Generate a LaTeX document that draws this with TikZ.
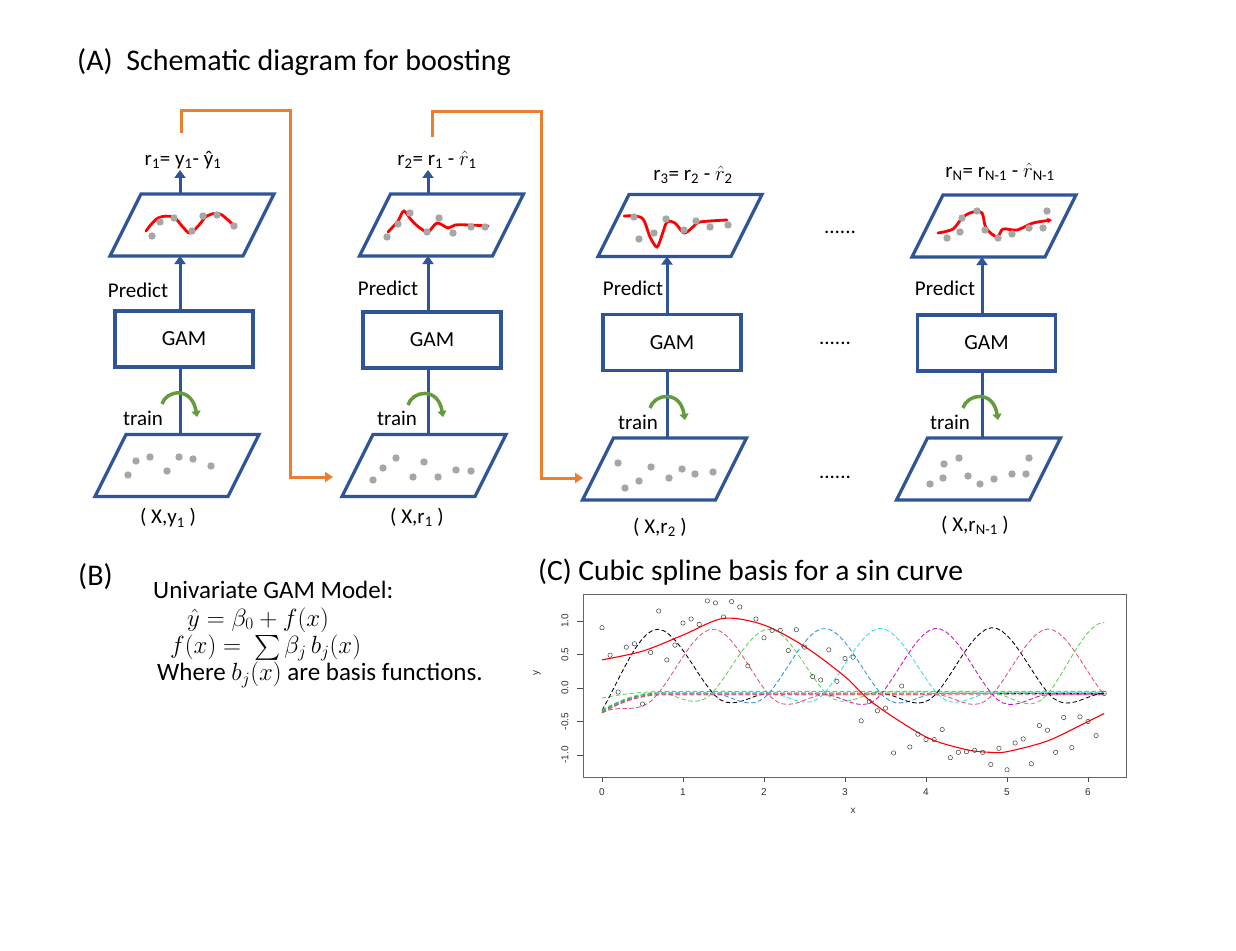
\documentclass[tikz,border=0pt]{standalone}
\usepackage{fontspec}
\usepackage{exscale}
\setmainfont{Carlito}
\newfontfamily\plotfont{Liberation Sans}
\usetikzlibrary{arrows.meta}
\definecolor{blu}{RGB}{47,85,151}
\definecolor{org}{RGB}{237,125,49}
\definecolor{grn}{RGB}{100,155,60}
\definecolor{dotg}{RGB}{166,166,166}
\definecolor{rpink}{HTML}{DF536B}
\definecolor{rgreen}{HTML}{61D04F}
\definecolor{rblue}{HTML}{2297E6}
\definecolor{rcyan}{HTML}{28E2E5}
\definecolor{rmag}{HTML}{CD0BBC}
\begin{document}
\begin{tikzpicture}[x=1pt,y=-1pt,
  declare function={kb(\a)=\a<1 ? (\a*\a*\a-2*\a*\a+1) : (\a<2 ? (-\a*\a*\a+5*\a*\a-8*\a+4) : 0);
                     kk(\t)=kb(abs(\t));
                     ee(\x)=-0.27*(max(0,1-\x/0.75))^2;},
  txt/.style={font=\fontsize{21}{25}\selectfont, inner sep=1pt},
  big/.style={font=\fontsize{30}{36}\selectfont, inner sep=0pt, anchor=west},
  mid/.style={font=\fontsize{25}{30}\selectfont, inner sep=0pt, anchor=west},
  mth/.style={font=\fontsize{26.5}{30}\selectfont, inner sep=0pt, anchor=west},
  parabox/.style={minimum width=164pt, minimum height=62pt, inner sep=0pt, outer sep=0pt},
  paraline/.style={draw=blu, line width=3.2pt, line join=miter},
  gam/.style={draw=blu, line width=3.2pt, minimum width=138pt, minimum height=56pt,
    font=\fontsize{21.5}{25}\selectfont},
  barr/.style={draw=blu, line width=3pt, -{Triangle[width=11pt,length=8pt]}},
  bline/.style={draw=blu, line width=3pt},
  oarr/.style={draw=org, line width=3pt, -{Triangle[width=10pt,length=8pt]}},
  garr/.style={draw=grn, line width=3.5pt, -{Triangle[width=9pt,length=6pt]}},
  redc/.style={draw=red, line width=2.8pt, line cap=round},
  dot/.style={fill=dotg},
  bdash/.style={line width=0.85pt, dash pattern=on 4.5pt off 2.5pt},
  circ/.style={draw=black!75, line width=0.5pt},
  tick/.style={font=\plotfont\fontsize{10}{12}\selectfont, text=black!80, inner sep=0pt}
]
\useasboundingbox[fill=white] (0,0) rectangle (1236,950);

% ---------- titles ----------
\node[big] (titA) at (77,62) {(A)\ \ Schematic diagram for boosting};
\node[big] (titB) at (78,577) {(B)};
\node[big, font=\fontsize{29.5}{35}\selectfont] (titC) at (538,572) {(C) Cubic spline basis for a sin curve};

% ---------- column axes ----------
\coordinate (ax1) at (180,0);
\coordinate (ax2) at (428,0);
\coordinate (ax3) at (667,0);
\coordinate (ax4) at (982,0);

% ---------- shapes ----------
\node[parabox] (t1) at (192,225) {};
\node[parabox] (b1) at (177,465.5) {};
\node[gam] (g1) at (184,339) {GAM};
\node[parabox] (t2) at (441.5,225) {};
\node[parabox] (b2) at (424,465.5) {};
\node[gam] (g2) at (432,340) {GAM};
\node[parabox] (t3) at (680,225.5) {};
\node[parabox] (b3) at (664.5,469) {};
\node[gam] (g3) at (672,342.5) {GAM};
\node[parabox] (t4) at (994,226) {};
\node[parabox] (b4) at (978.5,469) {};
\node[gam] (g4) at (986.5,343) {GAM};
\foreach \n in {t1,b1,t2,b2,t3,b3,t4,b4}
  \draw[paraline] (\n.south west) -- ([xshift=-31pt]\n.south east) -- (\n.north east)
    -- ([xshift=31pt]\n.north west) -- cycle;

% ---------- labels ----------
\node[txt] (l1) at (183,160) {r\textsubscript{1}= y\textsubscript{1}- ŷ\textsubscript{1}};
\node[txt] (l2) at (437,160) {r\textsubscript{2}= r\textsubscript{1} - $\hat{r}$\textsubscript{1}};
\node[txt] (l3) at (693,175) {r\textsubscript{3}= r\textsubscript{2} - $\hat{r}$\textsubscript{2}};
\node[txt] (l4) at (1000,172) {r\textsubscript{N}= r\textsubscript{N-1} - $\hat{r}$\textsubscript{N-1}};

\node[txt] (p1) at (138,290) {Predict};
\node[txt] (p2) at (388,288) {Predict};
\node[txt] (p3) at (633,288) {Predict};
\node[txt] (p4) at (945,288) {Predict};

\node[txt] (tr1) at (143,418) {train};
\node[txt] (tr2) at (397,418) {train};
\node[txt] (tr3) at (638,422) {train};
\node[txt] (tr4) at (950,422) {train};

\node[txt] (x1) at (168,518) {( X,y\textsubscript{1} )};
\node[txt] (x2) at (417,517) {( X,r\textsubscript{1} )};
\node[txt] (x3) at (660,527) {( X,r\textsubscript{2} )};
\node[txt] (x4) at (975,525) {( X,r\textsubscript{N-1} )};

\node[txt] (d1) at (840,232) {......};
\node[txt] (d2) at (835,343) {......};
\node[txt] (d3) at (835,477) {......};

% ---------- blue connectors ----------
\draw[barr] (t1.north -| ax1) -- (l1.south -| ax1);
\draw[barr] (t2.north -| ax2) -- (l2.south -| ax2);
\foreach \i in {1,2,3,4}{
  \draw[barr] (g\i.north -| ax\i) -- (t\i.south -| ax\i);
  \draw[bline] (b\i.north -| ax\i) -- (g\i.south -| ax\i);
}

% ---------- orange feedback ----------
\coordinate (o1s) at (181,133); \coordinate (o1m) at (290,110); \coordinate (o1e) at (333,477);
\coordinate (o2s) at (432,137); \coordinate (o2m) at (541,111); \coordinate (o2e) at (583,478);
\draw[oarr] (o1s) |- (o1m) |- (o1e);
\draw[oarr] (o2s) |- (o2m) |- (o2e);

% ---------- green train arcs ----------
\draw[garr] (162,404) .. controls (166,390) and (192,386) .. (197,417);
\draw[garr] (408,405) .. controls (412,391) and (438,386) .. (443,417);
\draw[garr] (650,408) .. controls (654,394) and (680,389) .. (685,420);
\draw[garr] (963,408) .. controls (967,394) and (993,389) .. (998,420);

% ---------- data dots and fits ----------
\draw[redc] plot[smooth,tension=0.6] coordinates {(146,231) (158,218) (173,217) (182,226) (190,233) (199,225) (207,216) (220,214) (234,226)};
\draw[redc] plot[smooth,tension=0.5] coordinates {(388,232) (398,221) (404,211) (413,222) (427,232) (437,223) (448,228) (455,225) (470,225) (488,226)};
\draw[redc] plot[smooth,tension=0.5] coordinates {(624,216) (642,218) (650,237) (657,247) (662,235) (667,222) (675,223) (684,233) (693,227) (700,222) (727,220)};
\draw[redc, -{Stealth[length=5pt,width=6pt]}] plot[smooth,tension=0.5] coordinates {(938,233) (953,229) (963,217) (973,212) (982,213) (986,228) (997,237) (1003,229) (1017,230) (1033,223) (1052,220)};

\foreach \p in {(128,475),(136,461),(150,457),(167,471),(179,457),(193,459),(211,466),
  (373,480),(383,468),(396,458),(413,477),(424,462),(438,477),(456,470),(471,471),
  (618,463),(625,488),(639,481),(651,467),(669,478),(682,469),(695,474),(713,472),
  (930,484),(943,478),(944,464),(959,458),(968,476),(980,484),(994,479),(1012,474),(1026,474),(1029,458),
  (152,236),(160,222),(174,218),(192,231),(203,216),(217,215),(234,226),
  (387,237),(398,224),(410,213),(427,232),(439,218),(453,233),(471,227),(485,227),
  (634,217),(639,239),(654,233),(666,219),(684,230),(696,221),(710,227),(728,225),
  (947,238),(960,232),(962,218),(977,211),(985,230),(998,238),(1012,234),(1029,228),(1043,228),(1047,211)}
  \fill[dot] \p circle[radius=3.7];

% ---------- (B) text ----------
\node[mid] (bt1) at (153,590) {Univariate GAM Model:};
\node[mth] (bt2) at (187,620) {$\hat{y} = \beta_0 + f(x)$};
\node[mth] (bt3) at (170,648) {$f(x) =\ \textstyle\sum \beta_j\, b_j(x)$};
\node[mid] (bt4) at (157,675) {Where $b_j(x)$ are basis functions.};

% ---------- (C) plot ----------
\draw[black!60, line width=0.8pt] (583,594) rectangle (1126,777);
\foreach \i in {0,...,6}{
  \draw[black!70, line width=0.6pt] ({602+81*\i},777) -- ({602+81*\i},782);
  \node[tick] (xt\i) at ({602+81*\i},792) {\i};
}
\foreach \v/\yy in {1.0/621,0.5/654.5,0.0/688,-0.5/721.5,-1.0/755}{
  \draw[black!70, line width=0.6pt] (583,\yy) -- (577,\yy);
  \node[tick, rotate=90] (yt\yy) at (565,\yy) {\v};
}
\node[tick] (xlab) at (853,811) {x};
\node[tick, rotate=90] (ylab) at (537,673) {y};

\begin{scope}[shift={(602,688)}, x=81pt, y=67pt]
  \draw[bdash, rgreen] plot[domain=0:6.2, samples=40, variable=\x] (\x, {-0.05-0.1*(max(0,1-\x/0.8))^2});
  \foreach \c/\col/\base/\amp in {0.68/black/-0.08/0.96, 1.37/rpink/-0.1/0.98, 2.06/rgreen/-0.06/0.94,
      2.75/rblue/-0.08/0.97, 3.44/rcyan/-0.07/0.96, 4.13/rmag/-0.1/0.99, 4.82/black/-0.08/0.98,
      5.51/rpink/-0.1/0.98, 6.2/rgreen/-0.08/1.06}{
    \draw[bdash, \col] plot[domain=0:6.2, samples=90, variable=\x]
      (\x, {\base + \amp*kk((\x-\c)/0.69) + ee(\x)});
  }
  \draw[red, line width=1.1pt] plot[smooth] coordinates {(0,0.42) (0.5,0.55) (1,0.79) (1.5,1.04) (2,0.94) (2.5,0.62) (3,0.17) (3.34,-0.22) (4,-0.73) (4.5,-0.92) (4.8,-0.96) (5,-0.95) (5.5,-0.79) (6,-0.5) (6.2,-0.38)};
  \foreach \xx/\yy in {0/0.9, 0.1/0.49, 0.2/-0.06, 0.3/0.61, 0.4/0.66, 0.5/-0.24, 0.6/0.53, 0.7/1.15,
    0.8/0.42, 0.9/0.64, 1.0/0.97, 1.1/1.03, 1.2/0.95, 1.3/1.3, 1.4/1.27, 1.5/1.06, 1.6/1.29, 1.7/1.21,
    1.8/0.33, 1.9/1.03, 2.0/0.75, 2.1/0.86, 2.2/0.86, 2.3/0.56, 2.4/0.87, 2.5/0.61, 2.6/0.17, 2.7/0.12,
    2.8/0.57, 2.9/0.1, 3.0/0.44, 3.1/0.46, 3.2/-0.49, 3.3/-0.2, 3.4/-0.34, 3.5/-0.3, 3.6/-0.97, 3.7/0.03,
    3.8/-0.88, 3.9/-0.69, 4.0/-0.77, 4.1/-0.77, 4.2/-0.62, 4.3/-1.04, 4.4/-0.96, 4.5/-0.95, 4.6/-0.93,
    4.7/-0.96, 4.8/-1.14, 4.9/-0.9, 5.0/-1.22, 5.1/-0.82, 5.2/-0.76, 5.3/-1.13, 5.4/-0.56, 5.5/-0.63,
    5.6/-0.96, 5.7/-0.44, 5.8/-0.89, 5.9/-0.43, 6.0/-0.5, 6.1/-0.71, 6.2/-0.08}
    \draw[circ] (\xx,\yy) circle[radius=2.2pt];
\end{scope}
\end{tikzpicture}
\end{document}
